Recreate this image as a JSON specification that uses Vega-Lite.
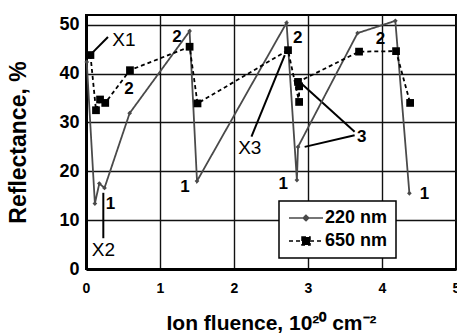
{
  "$schema": "https://vega.github.io/schema/vega-lite/v6.json",
  "width": 370,
  "height": 254,
  "autosize": "none",
  "padding": {"left": 86, "top": 15, "right": 1, "bottom": 64},
  "background": "white",
  "config": {
    "view": {"stroke": "black", "strokeWidth": 2},
    "font": "Liberation Sans",
    "axis": {
      "grid": true,
      "gridColor": "#111",
      "gridWidth": 1.4,
      "gridOpacity": 1,
      "domainColor": "black",
      "domainWidth": 3,
      "ticks": false,
      "labelColor": "black",
      "labelFont": "Liberation Sans",
      "labelFontWeight": "bold",
      "titleColor": "black",
      "titleFont": "Liberation Sans",
      "titleFontWeight": "bold",
      "labelFlush": false,
      "labelOverlap": false
    }
  },
  "datasets": {
    "curves": [
      {"i": 1, "series": "220 nm", "fluence": 0.01, "refl": 42.4},
      {"i": 2, "series": "220 nm", "fluence": 0.12, "refl": 13.4},
      {"i": 3, "series": "220 nm", "fluence": 0.18, "refl": 17.5},
      {"i": 4, "series": "220 nm", "fluence": 0.25, "refl": 16.6},
      {"i": 5, "series": "220 nm", "fluence": 0.59, "refl": 31.9},
      {"i": 6, "series": "220 nm", "fluence": 1.40, "refl": 48.7},
      {"i": 7, "series": "220 nm", "fluence": 1.50, "refl": 18.0},
      {"i": 8, "series": "220 nm", "fluence": 2.71, "refl": 50.4},
      {"i": 9, "series": "220 nm", "fluence": 2.85, "refl": 18.2},
      {"i": 10, "series": "220 nm", "fluence": 2.865, "refl": 25.0},
      {"i": 11, "series": "220 nm", "fluence": 3.67, "refl": 48.3},
      {"i": 12, "series": "220 nm", "fluence": 4.18, "refl": 50.8},
      {"i": 13, "series": "220 nm", "fluence": 4.37, "refl": 15.5},
      {"i": 1, "series": "650 nm", "fluence": 0.06, "refl": 43.8},
      {"i": 2, "series": "650 nm", "fluence": 0.135, "refl": 32.5},
      {"i": 3, "series": "650 nm", "fluence": 0.19, "refl": 34.7},
      {"i": 4, "series": "650 nm", "fluence": 0.26, "refl": 34.0},
      {"i": 5, "series": "650 nm", "fluence": 0.594, "refl": 40.7},
      {"i": 6, "series": "650 nm", "fluence": 1.40, "refl": 45.5},
      {"i": 7, "series": "650 nm", "fluence": 1.507, "refl": 33.9},
      {"i": 8, "series": "650 nm", "fluence": 2.73, "refl": 44.8},
      {"i": 9, "series": "650 nm", "fluence": 2.88, "refl": 34.2},
      {"i": 10, "series": "650 nm", "fluence": 2.88, "refl": 37.4},
      {"i": 11, "series": "650 nm", "fluence": 2.865, "refl": 38.3},
      {"i": 12, "series": "650 nm", "fluence": 3.69, "refl": 44.5},
      {"i": 13, "series": "650 nm", "fluence": 4.19, "refl": 44.6},
      {"i": 14, "series": "650 nm", "fluence": 4.38, "refl": 34.0}
    ],
    "markers": [
      {"label": "X1", "fluence": 0.513, "refl": 46.9},
      {"label": "X2", "fluence": 0.236, "refl": 3.9},
      {"label": "X3", "fluence": 2.213, "refl": 24.7}
    ],
    "cycles": [
      {"label": "2", "fluence": 0.58, "refl": 36.8},
      {"label": "2", "fluence": 1.23, "refl": 47.5},
      {"label": "2", "fluence": 2.86, "refl": 47.2},
      {"label": "2", "fluence": 3.98, "refl": 47.0},
      {"label": "1", "fluence": 0.33, "refl": 13.3},
      {"label": "1", "fluence": 1.336, "refl": 16.8},
      {"label": "1", "fluence": 2.665, "refl": 17.4},
      {"label": "1", "fluence": 4.575, "refl": 15.45},
      {"label": "3", "fluence": 3.725, "refl": 27.1}
    ],
    "leaders": [
      {"x": 0.297, "y": 47.5, "x2": 0.081, "y2": 44.2},
      {"x": 0.234, "y": 15.6, "x2": 0.234, "y2": 6.3},
      {"x": 2.236, "y": 27.1, "x2": 2.686, "y2": 43.8},
      {"x": 2.91, "y": 38.0, "x2": 3.63, "y2": 28.1},
      {"x": 2.955, "y": 25.0, "x2": 3.63, "y2": 27.4}
    ]
  },
  "layer": [
    {
      "data": {"name": "leaders"},
      "mark": {"type": "rule", "color": "black", "strokeWidth": 2},
      "encoding": {
        "x": {"field": "x", "type": "quantitative"},
        "y": {"field": "y", "type": "quantitative"},
        "x2": {"field": "x2"},
        "y2": {"field": "y2"}
      }
    },
    {
      "data": {"name": "curves"},
      "mark": {"type": "line", "strokeWidth": 1.8},
      "encoding": {
        "x": {
          "field": "fluence",
          "type": "quantitative",
          "scale": {"domain": [0, 5], "nice": false, "zero": false},
          "axis": {
            "values": [0, 1, 2, 3, 4, 5],
            "format": "d",
            "labelFontSize": 14,
            "labelPadding": 12,
            "title": "Ion fluence, 10²⁰ cm⁻²",
            "titleFontSize": 21,
            "titlePadding": 17
          }
        },
        "y": {
          "field": "refl",
          "type": "quantitative",
          "scale": {"domain": [0, 52], "nice": false},
          "axis": {
            "values": [0, 10, 20, 30, 40, 50],
            "format": "d",
            "labelFontSize": 18,
            "labelPadding": 7,
            "title": "Reflectance, %",
            "titleFontSize": 23,
            "titlePadding": 28
          }
        },
        "order": {"field": "i", "type": "quantitative"},
        "strokeDash": {
          "field": "series",
          "type": "nominal",
          "scale": {"domain": ["220 nm", "650 nm"], "range": [[1, 0], [4, 3]]},
          "legend": null
        },
        "color": {
          "field": "series",
          "type": "nominal",
          "scale": {"domain": ["220 nm", "650 nm"], "range": ["#4a4a4a", "#000000"]},
          "legend": {
            "title": null,
            "orient": "none",
            "legendX": 193,
            "legendY": 186,
            "direction": "vertical",
            "fillColor": "white",
            "strokeColor": "black",
            "padding": 8,
            "symbolSize": 100,
            "symbolStrokeWidth": 1.5,
            "labelFont": "Liberation Sans",
            "labelFontWeight": "bold",
            "labelFontSize": 18,
            "labelColor": "black",
            "labelOffset": 20,
            "rowPadding": 5,
            "encode": {
              "legend": {"update": {"strokeWidth": {"value": 1.5}}},
              "symbols": {
                "update": {
                  "shape": {"signal": "datum.value === '220 nm' ? 'M-1.4,0H5.4M2,-0.55L2.55,0L2,0.55L1.45,0Z' : 'M-1.4,0H5.4M1.2,-0.8H2.8V0.8H1.2Z'"},
                  "fill": {"signal": "datum.value === '220 nm' ? '#4a4a4a' : '#000000'"},
                  "stroke": {"signal": "datum.value === '220 nm' ? '#4a4a4a' : '#000000'"},
                  "strokeDash": {"signal": "datum.value === '220 nm' ? [1, 0] : [4, 3]"},
                  "strokeWidth": {"value": 1.5},
                  "opacity": {"value": 1},
                  "fillOpacity": {"value": 1}
                }
              }
            }
          }
        }
      }
    },
    {
      "data": {"name": "curves"},
      "mark": {"type": "point", "filled": true, "opacity": 1},
      "encoding": {
        "x": {"field": "fluence", "type": "quantitative"},
        "y": {"field": "refl", "type": "quantitative"},
        "color": {"condition": {"test": "datum.series === '220 nm'", "value": "#4a4a4a"}, "value": "#000000"},
        "shape": {"condition": {"test": "datum.series === '220 nm'", "value": "diamond"}, "value": "square"},
        "size": {"condition": {"test": "datum.series === '220 nm'", "value": 22}, "value": 60}
      }
    },
    {
      "data": {"name": "markers"},
      "mark": {"type": "text", "font": "Liberation Sans", "fontSize": 19, "color": "black", "align": "center", "baseline": "middle"},
      "encoding": {
        "x": {"field": "fluence", "type": "quantitative"},
        "y": {"field": "refl", "type": "quantitative"},
        "text": {"field": "label"}
      }
    },
    {
      "data": {"name": "cycles"},
      "mark": {"type": "text", "font": "Liberation Sans", "fontSize": 17, "fontWeight": "bold", "color": "black", "align": "center", "baseline": "middle"},
      "encoding": {
        "x": {"field": "fluence", "type": "quantitative"},
        "y": {"field": "refl", "type": "quantitative"},
        "text": {"field": "label"}
      }
    }
  ]
}
